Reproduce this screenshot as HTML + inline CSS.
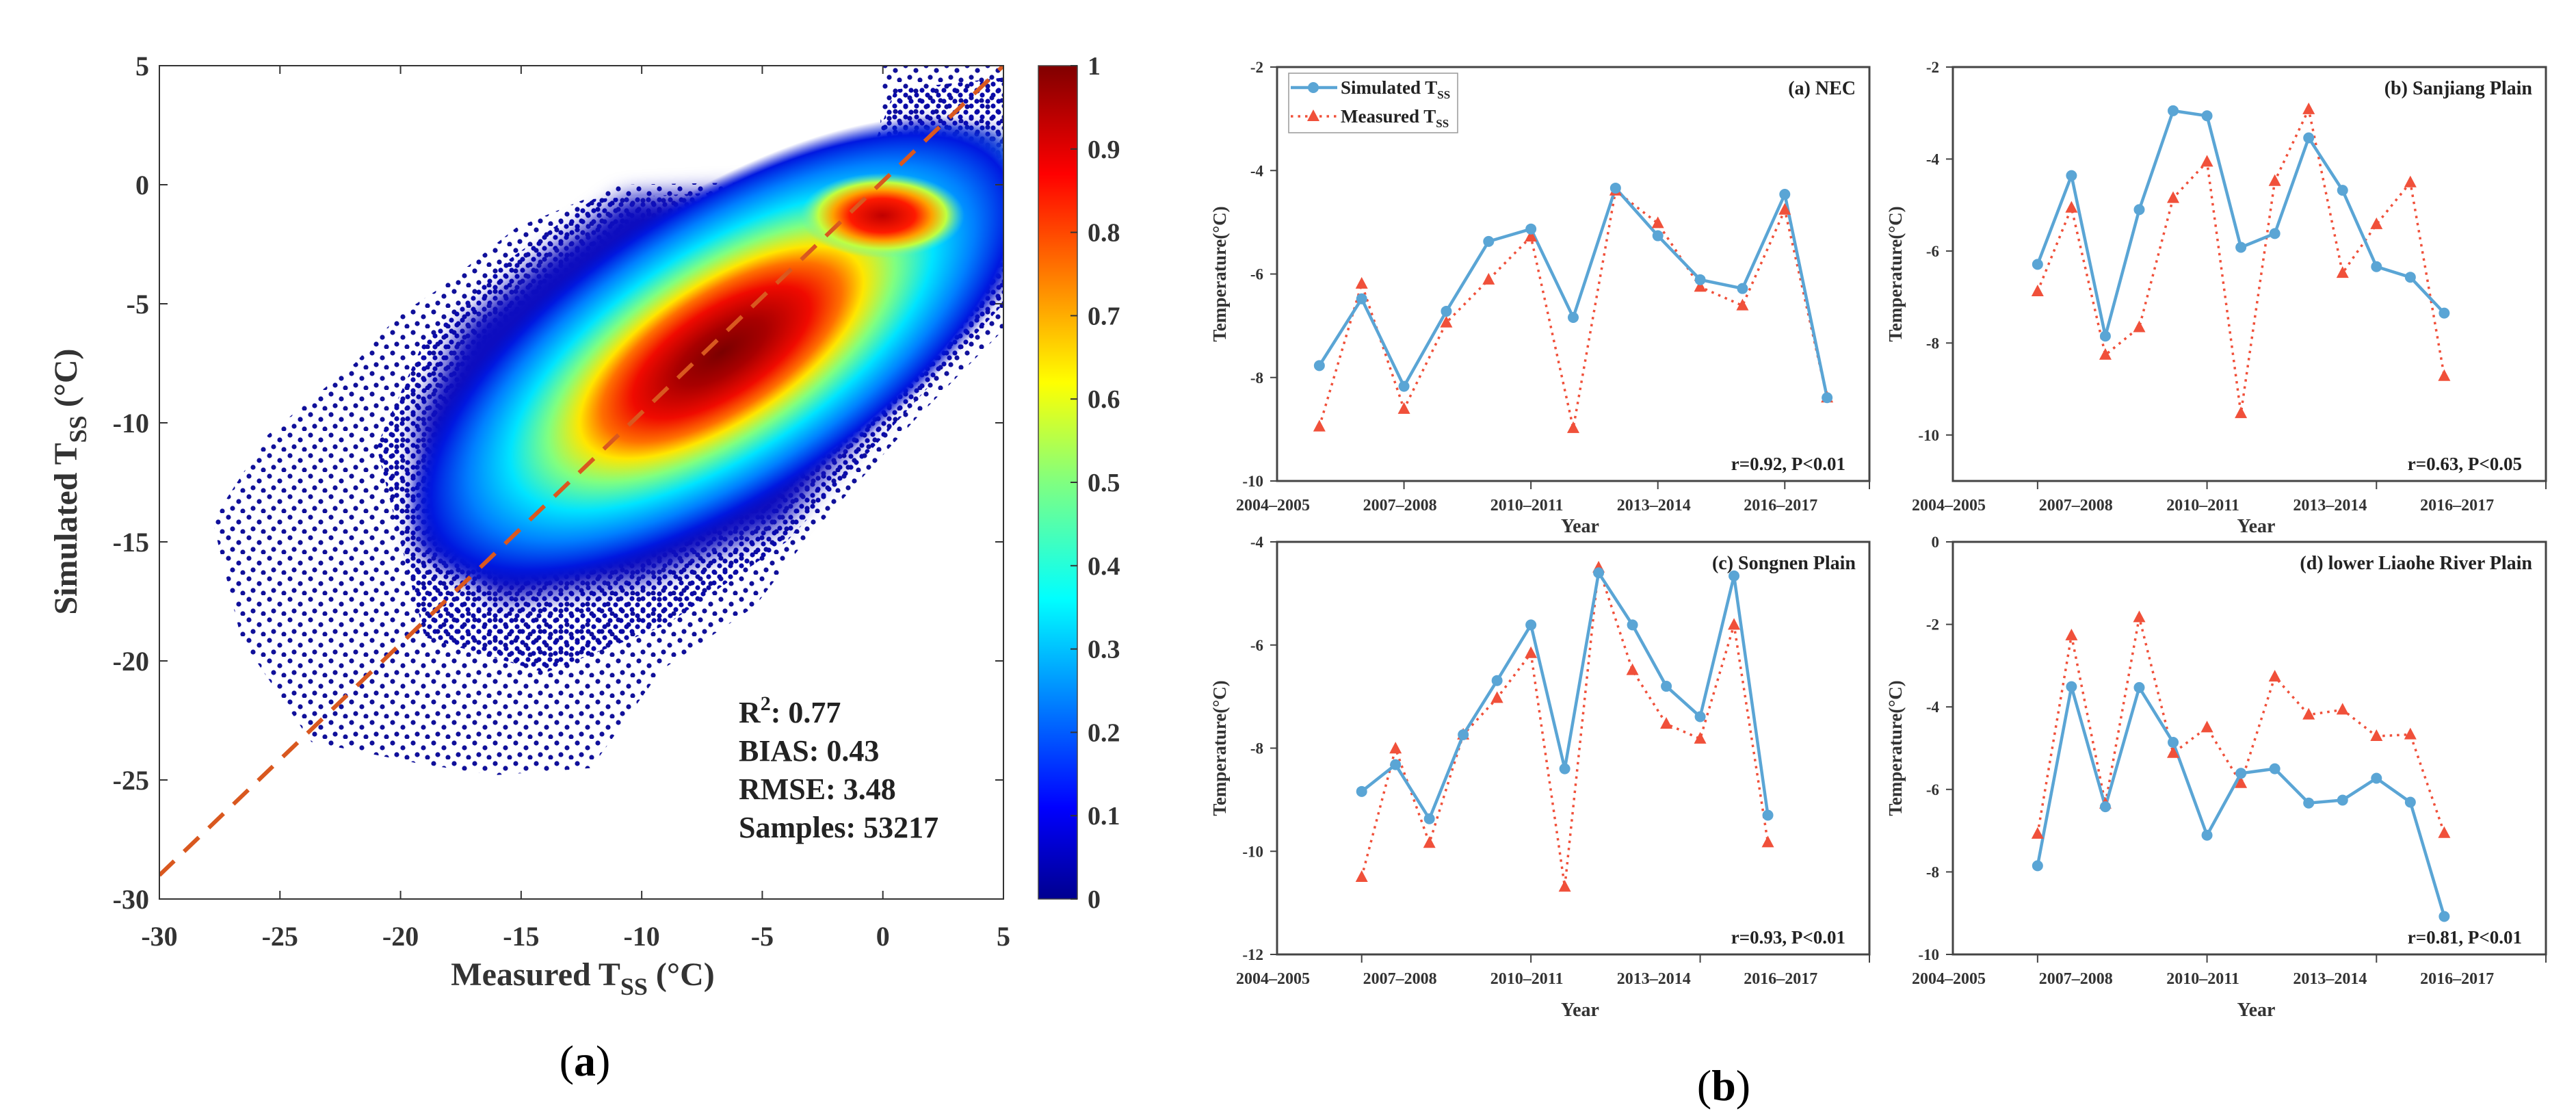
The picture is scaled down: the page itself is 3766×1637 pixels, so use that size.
<!DOCTYPE html>
<html><head><meta charset="utf-8"><style>
html,body{margin:0;padding:0;background:#fff;}
svg{display:block;font-family:"Liberation Serif",serif;}
</style></head><body>
<svg id="fig" width="3766" height="1637" viewBox="0 0 3766 1637">
<defs>
<radialGradient id="dens" cx="0.5" cy="0.5" r="0.5">
<stop offset="0" stop-color="#7a0000"/>
<stop offset="0.14" stop-color="#a80000"/>
<stop offset="0.28" stop-color="#f00a00"/>
<stop offset="0.38" stop-color="#ff7000"/>
<stop offset="0.45" stop-color="#ffe600"/>
<stop offset="0.55" stop-color="#80ff80"/>
<stop offset="0.67" stop-color="#00e4ff"/>
<stop offset="0.8" stop-color="#0080ff"/>
<stop offset="0.92" stop-color="#0018e0"/>
<stop offset="1" stop-color="#0010d0" stop-opacity="0"/>
</radialGradient>
<radialGradient id="dens2" cx="0.5" cy="0.5" r="0.5">
<stop offset="0" stop-color="#c00000"/>
<stop offset="0.4" stop-color="#ff1a00"/>
<stop offset="0.6" stop-color="#ffa000"/>
<stop offset="0.78" stop-color="#c0ff40"/>
<stop offset="1" stop-color="#60f0c0" stop-opacity="0"/>
</radialGradient>
<linearGradient id="jet" x1="0" y1="1" x2="0" y2="0">
<stop offset="0" stop-color="#00008f"/>
<stop offset="0.11" stop-color="#0000ff"/>
<stop offset="0.36" stop-color="#00ffff"/>
<stop offset="0.5" stop-color="#80ff80"/>
<stop offset="0.62" stop-color="#ffff00"/>
<stop offset="0.87" stop-color="#ff0000"/>
<stop offset="1" stop-color="#800000"/>
</linearGradient>
<pattern id="dots" width="30" height="30" patternUnits="userSpaceOnUse">
<circle cx="4" cy="6" r="3.6" fill="#10109a"/><circle cx="19" cy="13" r="3.6" fill="#10109a"/><circle cx="10" cy="23" r="3.6" fill="#10109a"/><circle cx="25" cy="27" r="3.6" fill="#10109a"/>
</pattern>
<pattern id="dots2" width="16" height="16" patternUnits="userSpaceOnUse">
<circle cx="4" cy="4" r="3.6" fill="#0a0aa8"/><circle cx="12" cy="11" r="3.6" fill="#0a0aa8"/>
</pattern>
<filter id="blur"><feGaussianBlur stdDeviation="16"/></filter>
<filter id="blur2"><feGaussianBlur stdDeviation="6"/></filter>
<clipPath id="lclip"><rect x="233" y="96" width="1234" height="1218"/></clipPath>
</defs>
<g id="left"></g>
<g id="right"></g>
<text x="855" y="1572" font-size="64" text-anchor="middle">(<tspan font-weight="bold">a</tspan>)</text>
<text x="2520" y="1608" font-size="64" text-anchor="middle">(<tspan font-weight="bold">b</tspan>)</text>
</svg>
<script>
const NS="http://www.w3.org/2000/svg";
function mk(p,tag,at,txt){const e=document.createElementNS(NS,tag);for(const k in at)e.setAttribute(k,at[k]);if(txt!==undefined)e.textContent=txt;p.appendChild(e);return e;}

// ---------- left scatter ----------
const scatterXTicks=[-30,-25,-20,-15,-10,-5,0,5];
const scatterYTicks=[5,0,-5,-10,-15,-20,-25,-30];
const cbarTicks=[0,0.1,0.2,0.3,0.4,0.5,0.6,0.7,0.8,0.9,1];
const cloudOuter=[[-27.8,-14.1],[-25.5,-10.5],[-21.9,-7.5],[-20.1,-5.5],[-18.3,-4.3],[-15.2,-1.8],[-10.9,0],[-0.2,0.2],[0,5],[5,5],[5,-6.1],[1.4,-9.8],[-3.1,-14.8],[-5.3,-17.7],[-9.2,-20.4],[-12.1,-24.5],[-16.1,-24.8],[-19.3,-24.3],[-23.7,-23.4],[-26.6,-19.1]];
const cloudMid=[[-21,-11],[-19,-6.5],[-16,-3.5],[-12,-0.6],[-1,0],[0.5,4],[5,4.5],[5,-5],[1,-9.5],[-4,-15],[-9,-18.5],[-14,-20.5],[-19,-19]];
const cloudInner=[[-19.3,-9.8],[-17.4,-5.9],[-14.3,-3.2],[-10.7,-0.5],[-0.2,0],[1,2.5],[5,2],[5,-4],[0.3,-9.1],[-4.2,-14.3],[-9.8,-16.6],[-15.7,-17.5],[-19.3,-15.4]];
const statLines=["BIAS: 0.43","RMSE: 3.48","Samples: 53217"];
const fitLine=[[-30,-29],[5,5]];
const X0=-30,X1=5,Y0=-30,Y1=5,L=233,R=1467,T=96,B=1314;
const sx=v=>L+(v-X0)/(X1-X0)*(R-L);
const sy=v=>B-(v-Y0)/(Y1-Y0)*(B-T);
const lg=document.getElementById('left');
const cl=mk(lg,'g',{'clip-path':'url(#lclip)'});


const po=mk(cl,'polygon',{points:cloudOuter.map(p=>sx(p[0])+','+sy(p[1])).join(' '),fill:'url(#dots)'});


const pm=mk(cl,'polygon',{points:cloudMid.map(p=>sx(p[0])+','+sy(p[1])).join(' '),fill:'url(#dots2)'});


const pi=mk(cl,'polygon',{points:cloudInner.map(p=>sx(p[0])+','+sy(p[1])).join(' '),fill:'#0c10c0',filter:'url(#blur)'});


mk(cl,'ellipse',{cx:sx(2.2),cy:sy(-0.8),rx:170,ry:95,fill:'#20d8f0',opacity:0.9,filter:'url(#blur)'});
const cx=1055,cy=515;
const e1=mk(cl,'ellipse',{cx:cx,cy:cy,rx:530,ry:225,fill:'url(#dens)',transform:`rotate(-33 ${cx} ${cy})`});


const e2=mk(cl,'ellipse',{cx:1290,cy:315,rx:120,ry:62,fill:'url(#dens2)'});


const fl=mk(lg,'line',{x1:sx(fitLine[0][0]),y1:sy(fitLine[0][1]),x2:sx(fitLine[1][0]),y2:sy(fitLine[1][1]),stroke:'#d9581f','stroke-width':6,'stroke-dasharray':'30 20','clip-path':'url(#lclip)'});


const fr=mk(lg,'rect',{x:L,y:T,width:R-L,height:B-T,fill:'none',stroke:'#333','stroke-width':2});


scatterXTicks.forEach(v=>{
  mk(lg,'line',{x1:sx(v),x2:sx(v),y1:B,y2:B-12,stroke:'#333','stroke-width':2});
  mk(lg,'line',{x1:sx(v),x2:sx(v),y1:T,y2:T+12,stroke:'#333','stroke-width':2});
  const t=mk(lg,'text',{x:sx(v),y:B+68,'font-size':40,'font-weight':'bold','text-anchor':'middle',fill:'#333'},v);
  
  
});
scatterYTicks.forEach(v=>{
  mk(lg,'line',{x1:L,x2:L+12,y1:sy(v),y2:sy(v),stroke:'#333','stroke-width':2});
  mk(lg,'line',{x1:R,x2:R-12,y1:sy(v),y2:sy(v),stroke:'#333','stroke-width':2});
  const t=mk(lg,'text',{x:L-15,y:sy(v)+14,'font-size':40,'font-weight':'bold','text-anchor':'end',fill:'#333'},v);
  
  
});
const xt=mk(lg,'text',{x:852,y:1440,'font-size':48,'font-weight':'bold','text-anchor':'middle',fill:'#333'});
xt.innerHTML='Measured T<tspan font-size="36" dy="14">SS</tspan><tspan dy="-14"> (°C)</tspan>';


const yt=mk(lg,'text',{x:0,y:0,'font-size':48,'font-weight':'bold','text-anchor':'middle',fill:'#333',transform:'translate(112 704) rotate(-90)'});
yt.innerHTML='Simulated T<tspan font-size="36" dy="14">SS</tspan><tspan dy="-14"> (°C)</tspan>';


const st=mk(lg,'text',{x:1080,y:1056,'font-size':44,'font-weight':'bold',fill:'#222'});
st.innerHTML='R<tspan font-size="30" dy="-18">2</tspan><tspan dy="18">: 0.77</tspan>';


statLines.forEach((s,i)=>{
  const t=mk(lg,'text',{x:1080,y:1112+i*56,'font-size':44,'font-weight':'bold',fill:'#222'},s);
  
  
});
const cb=mk(lg,'rect',{x:1518,y:T,width:57,height:B-T,fill:'url(#jet)',stroke:'#444','stroke-width':1.5});


cbarTicks.forEach(v=>{
  const y=B-v*(B-T);
  mk(lg,'line',{x1:1565,x2:1575,y1:y,y2:y,stroke:'#333','stroke-width':2});
  const t=mk(lg,'text',{x:1590,y:y+13,'font-size':38,'font-weight':'bold',fill:'#333'},v);
  
  
});

// ---------- right panels ----------
const yearLabels=["2004–2005","2007–2008","2010–2011","2013–2014","2016–2017"];
const simA=[-7.77,-6.48,-8.17,-6.72,-5.37,-5.13,-6.84,-4.34,-5.26,-6.11,-6.28,-4.46,-8.39];
const meaA=[-8.95,-6.19,-8.61,-6.94,-6.11,-5.28,-8.98,-4.39,-5.02,-6.25,-6.61,-4.76,-8.39];
const simB=[-6.29,-4.36,-7.85,-5.10,-2.95,-3.06,-5.92,-5.62,-3.54,-4.68,-6.34,-6.57,-7.35];
const meaB=[-6.88,-5.06,-8.26,-7.66,-4.85,-4.06,-9.53,-4.48,-2.92,-6.48,-5.42,-4.51,-8.72];
const simC=[-8.84,-8.32,-9.37,-7.74,-6.69,-5.61,-8.40,-4.60,-5.61,-6.80,-7.39,-4.66,-9.30];
const meaC=[-10.50,-8.01,-9.84,-7.74,-7.03,-6.16,-10.69,-4.50,-6.49,-7.53,-7.82,-5.61,-9.83];
const simD=[-7.85,-3.51,-6.42,-3.53,-4.86,-7.11,-5.61,-5.50,-6.33,-6.26,-5.73,-6.31,-9.08];
const meaD=[-7.08,-2.27,-6.35,-1.83,-5.12,-4.50,-5.85,-3.27,-4.19,-4.07,-4.71,-4.67,-7.06];
const yTicksA=[-2,-4,-6,-8,-10];
const yTicksB=[-2,-4,-6,-8,-10];
const yTicksC=[-4,-6,-8,-10,-12];
const yTicksD=[0,-2,-4,-6,-8,-10];
const panels=[
 {name:'panel-a-nec',title:'(a) NEC',r:'r=0.92, P<0.01',sim:simA,mea:meaA,yt:yTicksA,ymin:-10,ymax:-2,L:1867,R:2733,T:98,B:703,xmax:14,x0:1,tk:[3,6,9,12],legend:true},
 {name:'panel-b-sanjiang',title:'(b) Sanjiang Plain',r:'r=0.63, P<0.05',sim:simB,mea:meaB,yt:yTicksB,ymin:-11,ymax:-2,L:2855,R:3722,T:98,B:703,xmax:17.5,x0:2.5,tk:[2.5,7.5,12.5,17.5]},
 {name:'panel-c-songnen',title:'(c) Songnen Plain',r:'r=0.93, P<0.01',sim:simC,mea:meaC,yt:yTicksC,ymin:-12,ymax:-4,L:1867,R:2733,T:792,B:1395,xmax:17.5,x0:2.5,tk:[2.5,7.5,12.5,17.5]},
 {name:'panel-d-liaohe',title:'(d) lower Liaohe River Plain',r:'r=0.81, P<0.01',sim:simD,mea:meaD,yt:yTicksD,ymin:-10,ymax:0,L:2855,R:3722,T:792,B:1395,xmax:17.5,x0:2.5,tk:[2.5,7.5,12.5,17.5]}
];
const rg=document.getElementById('right');
panels.forEach((p,pi)=>{
  const g=mk(rg,'g',{});
  
  
  const px=i=>p.L+(p.x0+i)/p.xmax*(p.R-p.L);
  const tx=v=>p.L+v/p.xmax*(p.R-p.L);
  const py=v=>p.B-(v-p.ymin)/(p.ymax-p.ymin)*(p.B-p.T);
  mk(g,'rect',{x:p.L,y:p.T,width:p.R-p.L,height:p.B-p.T,fill:'none',stroke:'#444','stroke-width':3});
  p.tk.forEach(v=>mk(g,'line',{x1:tx(v),x2:tx(v),y1:p.B,y2:p.B+12,stroke:'#444','stroke-width':2}));
  mk(g,'line',{x1:p.R,x2:p.R,y1:p.B,y2:p.B+12,stroke:'#444','stroke-width':2});
  yearLabels.forEach((s,i)=>{
    const t=mk(g,'text',{x:p.L+i*3/14*(p.R-p.L)-6,y:p.B+43,'font-size':24,'font-weight':'bold','text-anchor':'middle',fill:'#333'},s);
    
    
  });
  p.yt.forEach(v=>{
    mk(g,'line',{x1:p.L-10,x2:p.L,y1:py(v),y2:py(v),stroke:'#444','stroke-width':2});
    const t=mk(g,'text',{x:p.L-20,y:py(v)+8,'font-size':23,'font-weight':'bold','text-anchor':'end',fill:'#333'},v);
    
    
  });
  const xl=mk(g,'text',{x:(p.L+p.R)/2+10,y:p.B+(pi<2?75:90),'font-size':28,'font-weight':'bold','text-anchor':'middle',fill:'#333'},'Year');
  
  
  const yl=mk(g,'text',{x:0,y:0,'font-size':27,'font-weight':'bold','text-anchor':'middle',fill:'#333',transform:`translate(${p.L-75} ${(p.T+p.B)/2}) rotate(-90)`},'Temperature(°C)');
  
  
  const tt=mk(g,'text',{x:p.R-20,y:p.T+40,'font-size':28,'font-weight':'bold','text-anchor':'end',fill:'#222'},p.title);
  
  
  const rt=mk(g,'text',{x:p.R-35,y:p.B-16,'font-size':27,'font-weight':'bold','text-anchor':'end',fill:'#222'},p.r);
  
  
  const ml=mk(g,'polyline',{points:p.mea.map((v,i)=>px(i)+','+py(v)).join(' '),fill:'none',stroke:'#f0503a','stroke-width':3.5,'stroke-dasharray':'3.5 7'});
  
  
  const sl=mk(g,'polyline',{points:p.sim.map((v,i)=>px(i)+','+py(v)).join(' '),fill:'none',stroke:'#5aa5d5','stroke-width':4.5});
  
  
  p.mea.forEach((v,i)=>{
    const x=px(i),y=py(v);
    const m=mk(g,'polygon',{points:`${x},${y-10} ${x-9},${y+7} ${x+9},${y+7}`,fill:'#f0503a'});
    
    
  });
  p.sim.forEach((v,i)=>{
    const m=mk(g,'circle',{cx:px(i),cy:py(v),r:8,fill:'#5aa5d5'});
    
    
  });
  if(p.legend){
    const lgd=mk(g,'g',{});
    
    
    mk(lgd,'rect',{x:1884,y:107,width:247,height:87,fill:'#fff',stroke:'#999','stroke-width':1.5});
    mk(lgd,'line',{x1:1887,x2:1955,y1:128,y2:128,stroke:'#5aa5d5','stroke-width':4.5});
    mk(lgd,'circle',{cx:1920,cy:128,r:8,fill:'#5aa5d5'});
    const a=mk(lgd,'text',{x:1960,y:137,'font-size':27,'font-weight':'bold',fill:'#222'});
    a.innerHTML='Simulated T<tspan font-size="17" dy="7">SS</tspan>';
    
    
    mk(lgd,'line',{x1:1887,x2:1955,y1:170,y2:170,stroke:'#f0503a','stroke-width':3.5,'stroke-dasharray':'3.5 7'});
    mk(lgd,'polygon',{points:'1920,160 1911,177 1929,177',fill:'#f0503a'});
    const b=mk(lgd,'text',{x:1960,y:179,'font-size':27,'font-weight':'bold',fill:'#222'});
    b.innerHTML='Measured T<tspan font-size="17" dy="7">SS</tspan>';
    
    
  }
});
</script>
</body></html>
